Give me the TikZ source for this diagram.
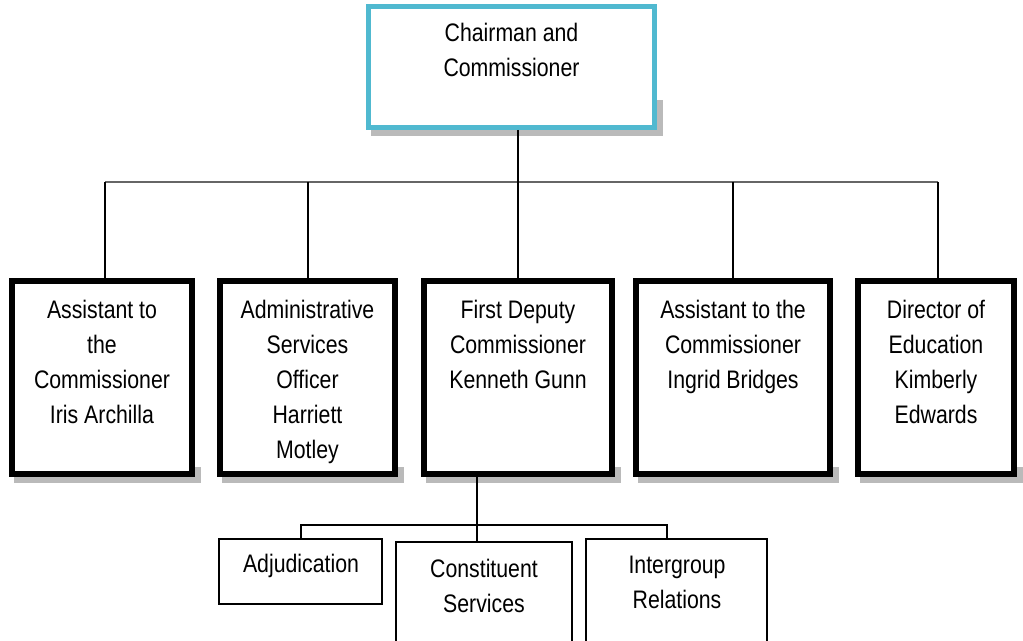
\documentclass[tikz,border=0pt]{standalone}
\usepackage{fontspec}
\setmainfont{Liberation Sans}[FakeStretch=0.84]
\definecolor{cyanbox}{RGB}{80,185,208}
\begin{document}
\begin{tikzpicture}[x=0.75pt,y=-0.75pt,
  topbox/.style={draw=cyanbox, line width=3.75pt, fill=white, minimum width=214.5pt, minimum height=90.75pt, inner sep=0pt},
  rowbox/.style={draw=black, line width=4.5pt, fill=white, minimum height=144.75pt, inner sep=0pt},
  subbox/.style={draw=black, line width=1.1pt, fill=white, inner sep=0pt},
  txt/.style={inner sep=0pt, anchor=base, font=\fontsize{19}{26.25}\selectfont},
  conn/.style={line width=1.1pt, black},
  bus/.style={line width=0.8pt, black!60},
  shadowfill/.style={fill=black!27}]
\useasboundingbox (0,0) rectangle (1023,641);
\clip (0,0) rectangle (1023,641);
\newcommand\dropshadow[4]{%
  \fill[shadowfill] ({#1+5},{#3}) rectangle ({#2+6},{#3+6});
  \fill[shadowfill] ({#2},{#3-#4}) rectangle ({#2+6},{#3+6});}
% shadows
\dropshadow{366}{657}{130}{30}
\dropshadow{9}{195}{477}{10}
\dropshadow{217}{398}{477}{10}
\dropshadow{421}{615}{477}{10}
\dropshadow{633}{833}{477}{10}
\dropshadow{855}{1017}{477}{10}
% boxes
\node[topbox] (chair) at (511.5,67) {};
\node[rowbox, minimum width=135pt] (b1) at (102,377.5) {};
\node[rowbox, minimum width=131.25pt] (b2) at (307.5,377.5) {};
\node[rowbox, minimum width=141pt] (b3) at (518,377.5) {};
\node[rowbox, minimum width=145.5pt] (b4) at (733,377.5) {};
\node[rowbox, minimum width=117pt] (b5) at (936,377.5) {};
\node[subbox, minimum width=122.25pt, minimum height=48.75pt] (adj) at (300.5,571.5) {};
\node[subbox, minimum width=132pt, minimum height=103.5pt] (con) at (484,611) {};
\node[subbox, minimum width=135.75pt, minimum height=105.75pt] (int) at (676.5,609.5) {};
% bus coordinates
\coordinate (h1) at (105,182);
\coordinate (h2) at (308,182);
\coordinate (h3) at (518,182);
\coordinate (h4) at (733,182);
\coordinate (h5) at (938,182);
\coordinate (s1) at (301,525);
\coordinate (s2) at (477,525);
\coordinate (s3) at (667,525);
% connectors
\draw[bus] (h1) -- (h5);
\draw[conn] (h3 |- chair.south) -- (h3);
\draw[conn] (h1) -- (h1 |- b1.north);
\draw[conn] (h2) -- (h2 |- b2.north);
\draw[conn] (h3) -- (h3 |- b3.north);
\draw[conn] (h4) -- (h4 |- b4.north);
\draw[conn] (h5) -- (h5 |- b5.north);
\draw[conn] (s2 |- b3.south) -- (s2 |- con.north);
\draw[conn] (s1 |- adj.north) -- (s1) -- (s3) -- (s3 |- int.north);
% texts
\node[txt] (chairt) at (511.5,42) {\parbox[t]{200pt}{\centering Chairman and\\Commissioner}};
\node[txt] (b1t) at (102,318) {\parbox[t]{130pt}{\centering Assistant to\\the\\Commissioner\\Iris Archilla}};
\node[txt] (b2t) at (307.5,318) {\parbox[t]{130pt}{\centering Administrative\\Services\\Officer\\Harriett\\Motley}};
\node[txt] (b3t) at (518,318) {\parbox[t]{140pt}{\centering First Deputy\\Commissioner\\Kenneth Gunn}};
\node[txt] (b4t) at (733,318) {\parbox[t]{145pt}{\centering Assistant to the\\Commissioner\\Ingrid Bridges}};
\node[txt] (b5t) at (936,318) {\parbox[t]{117pt}{\centering Director of\\Education\\Kimberly\\Edwards}};
\node[txt] (adjt) at (301,572) {Adjudication};
\node[txt] (cont) at (484,577) {\parbox[t]{130pt}{\centering Constituent\\Services}};
\node[txt] (intt) at (677,573) {\parbox[t]{130pt}{\centering Intergroup\\Relations}};
\end{tikzpicture}
\end{document}
